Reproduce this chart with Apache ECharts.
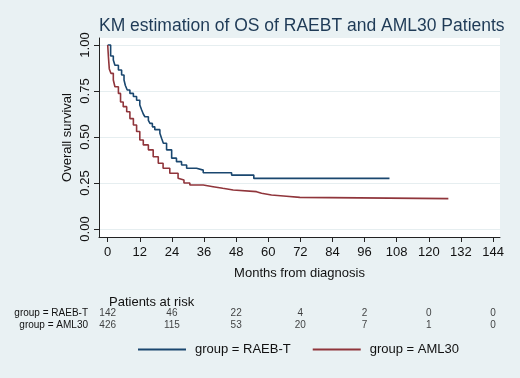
<!DOCTYPE html>
<html>
<head>
<meta charset="utf-8">
<script src="https://cdn.jsdelivr.net/npm/echarts@6/dist/echarts.min.js"></script>
<style>
html,body{margin:0;padding:0;background:#e9f1f3;}
#chart{width:520px;height:378px;}
</style>
</head>
<body>
<div id="chart"></div>
<script>
// ---- Data ----
var titleText = 'KM estimation of OS of RAEBT and AML30 Patients';
var seriesNames = ['group = RAEB-T', 'group = AML30'];
var xTicks = [0, 12, 24, 36, 48, 60, 72, 84, 96, 108, 120, 132, 144];
var yTicks = [0, 0.25, 0.5, 0.75, 1];

var raebtTime = [0, 1.1, 2.1, 2.7, 4.0, 5.2, 6.1, 6.6, 7.3, 8.3, 9.6, 10.8, 12.0, 12.7, 13.3, 13.9, 15.2, 15.8, 16.7, 17.6, 19.5, 20.2, 20.8, 22.0, 23.9, 25.7, 27.6, 29.5, 33.2, 35.7, 46.3, 54.6, 105.3];
var raebtSurv = [1.0, 0.94, 0.918, 0.89, 0.864, 0.837, 0.81, 0.78, 0.755, 0.737, 0.72, 0.70, 0.674, 0.647, 0.625, 0.61, 0.59, 0.574, 0.555, 0.54, 0.52, 0.49, 0.466, 0.43, 0.385, 0.366, 0.348, 0.33, 0.32, 0.306, 0.293, 0.275, 0.275];

var amlTime = [0, 0.3, 0.6, 1.2, 2.1, 2.7, 4.0, 4.8, 5.8, 7.1, 8.3, 9.6, 10.8, 12.0, 13.3, 15.2, 17.0, 18.9, 20.7, 23.2, 26.3, 27.0, 28.5, 30.7, 35.7, 39.4, 43.0, 46.9, 55.6, 57.5, 61.2, 66.8, 71.8, 127.3];
var amlSurv = [1.0, 0.93, 0.87, 0.846, 0.81, 0.773, 0.737, 0.69, 0.665, 0.637, 0.60, 0.565, 0.53, 0.484, 0.457, 0.43, 0.393, 0.357, 0.33, 0.303, 0.276, 0.266, 0.25, 0.239, 0.23, 0.221, 0.212, 0.203, 0.194, 0.185, 0.178, 0.172, 0.165, 0.165];

var riskTimes = [0, 24, 48, 72, 96, 120, 144];
var riskRAEBT = [142, 46, 22, 4, 2, 0, 0];
var riskAML = [426, 115, 53, 20, 7, 1, 0];

// ---- Build ----
function pairs(t, s) { return t.map(function (v, i) { return [v, s[i]]; }); }
var riskData = [];
riskTimes.forEach(function (t, i) {
  riskData.push([t, seriesNames[0], riskRAEBT[i]]);
  riskData.push([t, seriesNames[1], riskAML[i]]);
});

var FONT = 'Liberation Sans, Arial, sans-serif';
var colors = ['#1a476f', '#90353b'];
var chart = echarts.init(document.getElementById('chart'));
chart.setOption({
  backgroundColor: '#e9f1f3',
  animation: false,
  textStyle: { fontFamily: FONT },
  title: [
    { text: titleText, left: 94, top: 12,
      textStyle: { fontFamily: FONT, fontSize: 17.5, fontWeight: 'normal', color: '#1e3a56' } },
    { text: 'Patients at risk', left: 104, top: 291,
      textStyle: { fontFamily: FONT, fontSize: 13, fontWeight: 'normal', color: '#111' } }
  ],
  legend: {
    data: seriesNames,
    left: 133, top: 338,
    icon: 'rect', itemWidth: 48, itemHeight: 2, itemGap: 22,
    textStyle: { fontFamily: FONT, fontSize: 13, color: '#111', padding: [0, 0, 0, 4] }
  },
  grid: [
    { left: 99, right: 20, top: 38, bottom: 141, show: true, backgroundColor: '#ffffff', borderWidth: 0 },
    { left: 99, right: 20, top: 307, height: 24 }
  ],
  xAxis: [
    { type: 'value', gridIndex: 0, min: -3.25, max: 146.6,
      name: 'Months from diagnosis', nameLocation: 'middle', nameGap: 30, nameMoveOverlap: false,
      nameTextStyle: { fontFamily: FONT, fontSize: 13, color: '#111' },
      axisLine: { show: true, onZero: false, lineStyle: { color: '#222', width: 1 } },
      axisTick: { show: true, length: 5, customValues: xTicks, lineStyle: { color: '#222' } },
      axisLabel: { customValues: xTicks, margin: 9, fontSize: 13, color: '#111', fontFamily: FONT },
      splitLine: { show: false } },
    { type: 'value', gridIndex: 1, min: -3.25, max: 146.6, show: false }
  ],
  yAxis: [
    { type: 'value', gridIndex: 0, min: -0.0435, max: 1.038,
      name: 'Overall survival', nameLocation: 'middle', nameGap: 25, nameMoveOverlap: false,
      nameTextStyle: { fontFamily: FONT, fontSize: 13, color: '#111' },
      axisLine: { show: true, onZero: false, lineStyle: { color: '#222', width: 1 } },
      axisTick: { show: true, length: 5, customValues: yTicks, lineStyle: { color: '#222' } },
      axisLabel: { customValues: yTicks, margin: 7, rotate: 90, fontSize: 13, color: '#111', fontFamily: FONT,
        formatter: function (v) { return v.toFixed(2); } },
      splitLine: { show: true, lineStyle: { color: '#e6eef0', width: 1 } } },
    { type: 'category', gridIndex: 1, data: seriesNames, inverse: true,
      axisLine: { show: false }, axisTick: { show: false },
      axisLabel: { interval: 0, margin: 11, fontSize: 10, color: '#111', fontFamily: FONT } }
  ],
  series: [
    { name: seriesNames[0], type: 'line', xAxisIndex: 0, yAxisIndex: 0, step: 'end',
      data: pairs(raebtTime, raebtSurv), showSymbol: false, symbol: 'none',
      color: colors[0], lineStyle: { color: colors[0], width: 1.6 } },
    { name: seriesNames[1], type: 'line', xAxisIndex: 0, yAxisIndex: 0, step: 'end',
      data: pairs(amlTime, amlSurv), showSymbol: false, symbol: 'none',
      color: colors[1], lineStyle: { color: colors[1], width: 1.6 } },
    { type: 'scatter', xAxisIndex: 1, yAxisIndex: 1, data: riskData,
      symbolSize: 1, itemStyle: { color: 'transparent' }, silent: true,
      label: { show: true, position: 'inside', fontSize: 10, color: '#111', fontFamily: FONT,
        formatter: function (p) { return String(p.value[2]); } } }
  ]
});
</script>
</body>
</html>
